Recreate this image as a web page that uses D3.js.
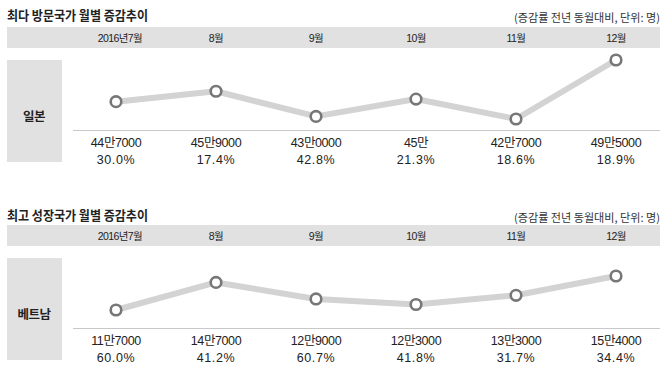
<!DOCTYPE html>
<html><head><meta charset="utf-8">
<script src="https://cdn.jsdelivr.net/npm/d3@7"></script>
<style>
html,body{margin:0;padding:0;background:#fff;}
svg{display:block;}
text{font-family:"Liberation Sans","Noto Sans CJK KR",sans-serif;fill:#222;}
</style></head>
<body>
<svg id="chart" width="669" height="372"></svg>
<script>
const months = ["2016년7월","8월","9월","10월","11월","12월"];

const japanTitle = "최다 방문국가 월별 증감추이";
const japanName = "일본";
const japanVisitors = [447000, 459000, 430000, 450000, 427000, 495000];
const japanLabels = ["44만7000","45만9000","43만0000","45만","42만7000","49만5000"];
const japanGrowth = [30.0, 17.4, 42.8, 21.3, 18.6, 18.9];

const vietnamTitle = "최고 성장국가 월별 증감추이";
const vietnamName = "베트남";
const vietnamVisitors = [117000, 147000, 129000, 123000, 133000, 154000];
const vietnamLabels = ["11만7000","14만7000","12만9000","12만3000","13만3000","15만4000"];
const vietnamGrowth = [60.0, 41.2, 60.7, 41.8, 31.7, 34.4];

const noteText = "(증감률 전년 동월대비, 단위: 명)";

const svg = d3.select("#chart");
const x = d3.scalePoint().domain(months).range([116, 616]);

function drawPanel(top, titleDy, title, name, values, labels, growth, yDomain, yRange) {
  const g = svg.append("g").attr("transform", `translate(0,${top})`);
  g.append("text").attr("x", 7).attr("y", 20 + titleDy)
    .attr("font-size", 13).attr("font-weight", "bold")
    .attr("textLength", 141).attr("lengthAdjust", "spacingAndGlyphs")
    .style("font-family", "'Noto Sans CJK KR',sans-serif")
    .text(title);
  g.append("text").attr("x", 660).attr("y", 22 + titleDy).attr("text-anchor", "end")
    .attr("font-size", 11).style("fill", "#333")
    .attr("textLength", 146).attr("lengthAdjust", "spacingAndGlyphs")
    .style("font-family", "'Noto Sans CJK KR',sans-serif")
    .text(noteText);
  g.append("rect").attr("x", 7).attr("y", 27).attr("width", 653).attr("height", 21).attr("fill", "#e1e1e1");
  g.selectAll(".month").data(months).enter().append("text")
    .attr("x", d => x(d) + (d === months[0] ? 4 : 0)).attr("y", 42)
    .attr("text-anchor", "middle").attr("font-size", 10.5).attr("letter-spacing", -0.6)
    .text(d => d);
  g.append("rect").attr("x", 7).attr("y", 60).attr("width", 55).attr("height", 102).attr("fill", "#e1e1e1");
  g.append("text").attr("x", 34).attr("y", 117).attr("dy", "0.35em").attr("text-anchor", "middle")
    .attr("font-size", 12.5).attr("font-weight", "bold").attr("letter-spacing", -0.5)
    .style("font-family", "'Noto Sans CJK KR',sans-serif")
    .text(name);
  g.append("line").attr("x1", 73).attr("x2", 660).attr("y1", 130.5).attr("y2", 130.5)
    .attr("stroke", "#c8c8c8").attr("stroke-width", 1);

  const y = d3.scaleLinear().domain(yDomain).range(yRange);
  const pts = months.map((m, i) => [x(m), y(values[i])]);
  g.append("path").attr("d", d3.line()(pts)).attr("fill", "none")
    .attr("stroke", "#d3d3d3").attr("stroke-width", 6).attr("stroke-linejoin", "round");
  g.selectAll(".pt").data(pts).enter().append("circle")
    .attr("cx", d => d[0]).attr("cy", d => d[1]).attr("r", 5.3)
    .attr("fill", "#fff").attr("stroke", "#777").attr("stroke-width", 2.6);
  g.selectAll(".val").data(labels).enter().append("text")
    .attr("x", (d, i) => x(months[i])).attr("y", 147).attr("text-anchor", "middle")
    .attr("font-size", 12.5).attr("letter-spacing", -0.4).text(d => d);
  g.selectAll(".pct").data(growth).enter().append("text")
    .attr("x", (d, i) => x(months[i])).attr("y", 164).attr("text-anchor", "middle")
    .attr("font-size", 12.5).attr("letter-spacing", 0.6).text(d => d.toFixed(1) + "%");
}

drawPanel(0, 0, japanTitle, japanName, japanVisitors, japanLabels, japanGrowth, [427000, 495000], [119, 60]);
drawPanel(198, 2, vietnamTitle, vietnamName, vietnamVisitors, vietnamLabels, vietnamGrowth, [117000, 154000], [112, 78]);
</script>
</body></html>
